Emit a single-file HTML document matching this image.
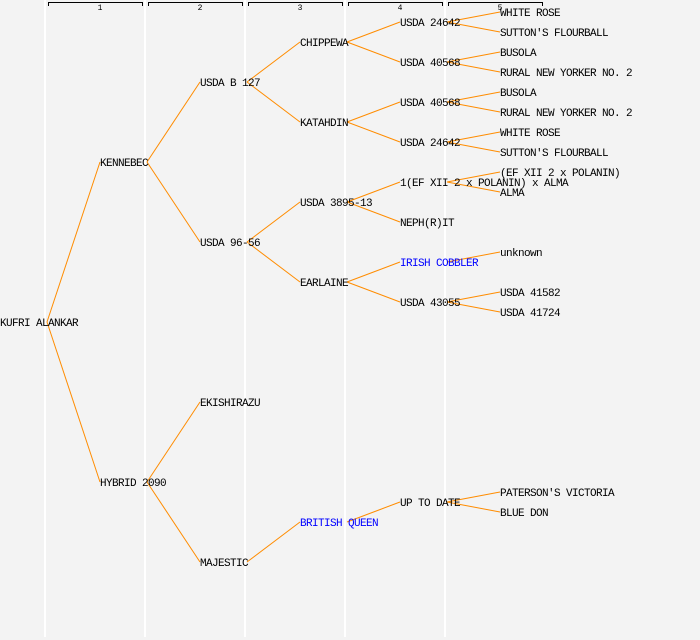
<!DOCTYPE html>
<html><head><meta charset="utf-8"><style>
html,body{margin:0;padding:0;background:#f3f3f3;}
svg{display:block;}
text{font-family:"Liberation Mono",monospace;font-size:11px;letter-spacing:-0.6px;fill:#000;}
.b{fill:#0000ff;}
.h{font-size:8px;letter-spacing:0;}
</style></head><body>
<svg width="700" height="640" xmlns="http://www.w3.org/2000/svg">
<rect width="700" height="640" fill="#f3f3f3"/>
<g stroke="#fff" stroke-width="2">
<line x1="45" y1="0" x2="45" y2="637"/>
<line x1="145" y1="0" x2="145" y2="637"/>
<line x1="245" y1="0" x2="245" y2="637"/>
<line x1="345" y1="0" x2="345" y2="637"/>
<line x1="445" y1="0" x2="445" y2="637"/>
</g>
<g stroke="#000" stroke-width="1" fill="none">
<path d="M48.5 6V2.5H142.5V6"/>
<path d="M148.5 6V2.5H242.5V6"/>
<path d="M248.5 6V2.5H342.5V6"/>
<path d="M348.5 6V2.5H442.5V6"/>
<path d="M448.5 6V2.5H542.5V6"/>
</g>
<g><text class="h" x="100" y="10" text-anchor="middle">1</text><text class="h" x="200" y="10" text-anchor="middle">2</text><text class="h" x="300" y="10" text-anchor="middle">3</text><text class="h" x="400" y="10" text-anchor="middle">4</text><text class="h" x="500" y="10" text-anchor="middle">5</text></g>
<g stroke="#ff8c00" stroke-width="1" fill="none">
<line x1="47" y1="322" x2="100" y2="162"/><line x1="47" y1="322" x2="100" y2="482"/>
<line x1="147" y1="162" x2="200" y2="82"/><line x1="147" y1="162" x2="200" y2="242"/>
<line x1="147" y1="482" x2="200" y2="402"/><line x1="147" y1="482" x2="200" y2="562"/>
<line x1="247" y1="82" x2="300" y2="42"/><line x1="247" y1="82" x2="300" y2="122"/>
<line x1="247" y1="242" x2="300" y2="202"/><line x1="247" y1="242" x2="300" y2="282"/>
<line x1="247" y1="562" x2="300" y2="522"/>
<line x1="347" y1="42" x2="400" y2="22"/><line x1="347" y1="42" x2="400" y2="62"/>
<line x1="347" y1="122" x2="400" y2="102"/><line x1="347" y1="122" x2="400" y2="142"/>
<line x1="347" y1="202" x2="400" y2="182"/><line x1="347" y1="202" x2="400" y2="222"/>
<line x1="347" y1="282" x2="400" y2="262"/><line x1="347" y1="282" x2="400" y2="302"/>
<line x1="347" y1="522" x2="400" y2="502"/>
<line x1="447" y1="22" x2="500" y2="12"/><line x1="447" y1="22" x2="500" y2="32"/>
<line x1="447" y1="62" x2="500" y2="52"/><line x1="447" y1="62" x2="500" y2="72"/>
<line x1="447" y1="102" x2="500" y2="92"/><line x1="447" y1="102" x2="500" y2="112"/>
<line x1="447" y1="142" x2="500" y2="132"/><line x1="447" y1="142" x2="500" y2="152"/>
<line x1="447" y1="182" x2="500" y2="172"/><line x1="447" y1="182" x2="500" y2="192"/>
<line x1="447" y1="262" x2="500" y2="252"/>
<line x1="447" y1="302" x2="500" y2="292"/><line x1="447" y1="302" x2="500" y2="312"/>
<line x1="447" y1="502" x2="500" y2="492"/><line x1="447" y1="502" x2="500" y2="512"/>
</g>
<g>
<text x="0" y="326">KUFRI ALANKAR</text>
<text x="100" y="166">KENNEBEC</text>
<text x="100" y="486">HYBRID 2090</text>
<text x="200" y="86">USDA B 127</text>
<text x="200" y="246">USDA 96-56</text>
<text x="200" y="406">EKISHIRAZU</text>
<text x="200" y="566">MAJESTIC</text>
<text x="300" y="46">CHIPPEWA</text>
<text x="300" y="126">KATAHDIN</text>
<text x="300" y="206">USDA 3895-13</text>
<text x="300" y="286">EARLAINE</text>
<text x="300" y="526" class="b">BRITISH QUEEN</text>
<text x="400" y="26">USDA 24642</text>
<text x="400" y="66">USDA 40568</text>
<text x="400" y="106">USDA 40568</text>
<text x="400" y="146">USDA 24642</text>
<text x="400" y="186">1(EF XII 2 x POLANIN) x ALMA</text>
<text x="400" y="226">NEPH(R)IT</text>
<text x="400" y="266" class="b">IRISH COBBLER</text>
<text x="400" y="306">USDA 43055</text>
<text x="400" y="506">UP TO DATE</text>
<text x="500" y="16">WHITE ROSE</text>
<text x="500" y="36">SUTTON'S FLOURBALL</text>
<text x="500" y="56">BUSOLA</text>
<text x="500" y="76">RURAL NEW YORKER NO. 2</text>
<text x="500" y="96">BUSOLA</text>
<text x="500" y="116">RURAL NEW YORKER NO. 2</text>
<text x="500" y="136">WHITE ROSE</text>
<text x="500" y="156">SUTTON'S FLOURBALL</text>
<text x="500" y="176">(EF XII 2 x POLANIN)</text>
<text x="500" y="196">ALMA</text>
<text x="500" y="256">unknown</text>
<text x="500" y="296">USDA 41582</text>
<text x="500" y="316">USDA 41724</text>
<text x="500" y="496">PATERSON'S VICTORIA</text>
<text x="500" y="516">BLUE DON</text>
</g>
</svg>
</body></html>
